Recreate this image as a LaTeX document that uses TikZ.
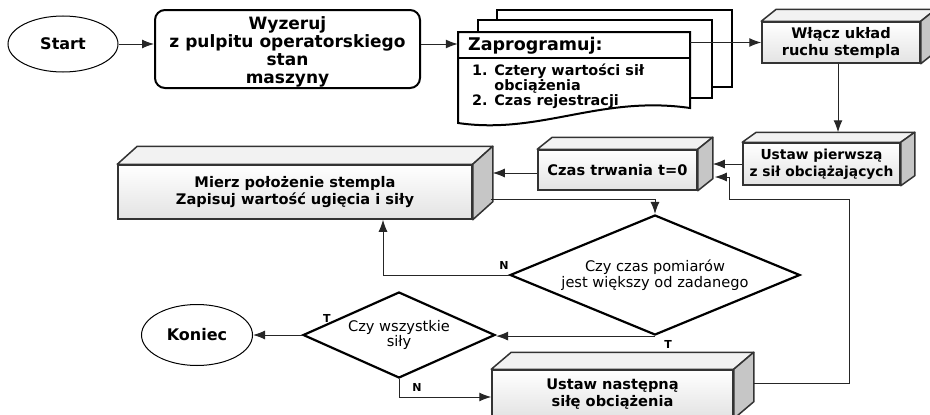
\documentclass[tikz,border=0pt]{standalone}
\usepackage{fontspec}
\setmainfont{DejaVu Sans}
\usetikzlibrary{positioning, arrows.meta, shapes.geometric, calc}
\tikzset{
    >={Latex[length=12pt,width=9pt]},
    conn/.style={->, line width=1pt, draw=black!85},
    box3d/.style={rectangle, draw=black!80, line width=1.5pt, inner sep=0pt, align=center,
      top color=white, bottom color=gray!22, font=\bfseries\fontsize{14.6}{17}\selectfont},
    face/.style={draw=black!80, line width=1.5pt, line join=round},
    decision/.style={diamond, draw, line width=2.2pt, inner sep=0pt, align=center,
      font=\fontsize{14.6}{15.5}\selectfont},
    terminal/.style={ellipse, draw, line width=1pt, font=\bfseries\fontsize{16}{18}\selectfont},
    doc/.style={draw, line width=2pt, fill=white},
    tag/.style={font=\bfseries\fontsize{11}{12}\selectfont, inner sep=1pt},
}

\begin{document}
\begin{tikzpicture}[x=1pt, y=-1pt]
    \useasboundingbox (0,0) rectangle (930,415);
    \clip (0,0) rectangle (930,415);

    \node[terminal, minimum width=110pt, minimum height=56pt] (start) at (63,44) {Start};
    \node[draw, rounded corners=10pt, line width=2pt, minimum width=265pt, minimum height=78pt,
      inner ysep=0pt, align=center, font=\bfseries\fontsize{17}{18}\selectfont] (wyzeruj) at (287.5,49)
      {\rule{0pt}{19pt}Wyzeruj\\z pulpitu operatorskiego\\stan\\maszyny};

    % stack of documents
    \draw[doc] (497,10) rectangle (732,87);
    \draw[doc] (478,20) rectangle (712,98);
    \draw[doc] (458,32) -- (690,32) -- (690,108) .. controls (600,95) and (540,135) .. (458,123) -- cycle;
    \draw[doc] (458,58) -- (690,58);
    \node[minimum width=232pt, minimum height=91pt, inner sep=0pt] (prog) at (574,77.5) {};
    \node[anchor=west, inner sep=0pt, font=\bfseries\fontsize{17.5}{19}\selectfont] (progtitle) at (468,46) {Zaprogramuj:};
    \node[anchor=north west, align=left, inner sep=0pt,
      font=\bfseries\fontsize{14.4}{13.5}\selectfont] (proglist) at (472,64)
      {1. Cztery wartości sił\\\hphantom{1. }obciążenia\\2. Czas rejestracji};

    \node[box3d, minimum width=158pt, minimum height=41pt] (wlacz) at (841,42.5) {Włącz układ\\ruchu stempla};
    \node[box3d, minimum width=157pt, minimum height=42pt, font=\bfseries\fontsize{13.8}{16.5}\selectfont] (pierwsza) at (821.5,164) {Ustaw pierwszą\\z sił obciążających};
    \node[box3d, minimum width=159pt, minimum height=40pt] (czas) at (617.5,170) {Czas trwania t=0};
    \node[box3d, minimum width=354pt, minimum height=54pt] (mierz) at (295,192) {Mierz położenie stempla\\Zapisuj wartość ugięcia i siły};
    \node[box3d, minimum width=241pt, minimum height=48pt] (nastepna) at (612.5,394) {Ustaw następną\\siłę obciążenia};

    \foreach \n/\dx/\dy in {wlacz/15/12, pierwsza/14/10, czas/15/12, mierz/20/18, nastepna/20/17} {
      \draw[face, fill=gray!10] (\n.north west) -- ++(\dx,-\dy) -- ($(\n.north east)+(\dx,-\dy)$) -- (\n.north east) -- cycle;
      \draw[face, fill=gray!45] (\n.north east) -- ++(\dx,-\dy) -- ($(\n.south east)+(\dx,-\dy)$) -- (\n.south east) -- cycle;
    }

    \node[decision, minimum width=290pt, minimum height=120pt, aspect=2.4] (pomiar) at (655,275) {Czy czas pomiarów\\jest większy od zadanego};
    \node[decision, minimum width=192pt, minimum height=86pt, aspect=2.2] (sily) at (399,335) {Czy wszystkie\\siły};
    \node[terminal, minimum width=111pt, minimum height=61pt] (koniec) at (197,335) {Koniec};

    \coordinate (pierwsza-top) at ([yshift=10pt]pierwsza.north);
    \coordinate (czas-side) at ([xshift=15pt]czas.east);
    \coordinate (czas-out) at ([yshift=-3pt]czas.west);
    \coordinate (mierz-side) at ([xshift=20pt]mierz.east);
    \coordinate (mierz-out) at ([xshift=18pt,yshift=-7pt]mierz.east);
    \coordinate (nastepna-side) at ([xshift=20pt,yshift=11pt]nastepna.east);

    \draw[conn] (start) -- (wyzeruj.west |- start);
    \draw[conn] (wyzeruj.east |- start) -- (prog.west |- start);
    \draw[conn] (prog.east |- wlacz) -- (wlacz.west);
    \draw[conn] ([xshift=-3pt]wlacz.south) -- ([xshift=-3pt]wlacz.south |- pierwsza-top);
    \draw[conn] (pierwsza.west) -- (czas-side |- pierwsza.west);
    \draw[conn] (nastepna-side) -- ++(96,0) -- ++(0,-184) -- ++(-120,0) -- ++(0,-22) -- ++(-15,0);
    \draw[conn] (czas-out) -- (mierz-side |- czas-out);
    \draw[conn] (mierz-out) -| (pomiar.north);
    \draw[conn] (pomiar.west) -| ([xshift=88pt]mierz.south);
    \draw[conn] (pomiar.south) -- (sily.east |- pomiar.south);
    \draw[conn] (sily.west) -- (koniec.east);
    \draw[conn] (sily.south) |- ([yshift=-3pt]nastepna.west);

    \node[tag] (n1) at ([xshift=-5pt,yshift=10pt]pomiar.west) {N};
    \node[tag] (t1) at ([xshift=13pt,yshift=-8pt]pomiar.south) {T};
    \node[tag] (t2) at ([xshift=25pt,yshift=17pt]sily.west) {T};
    \node[tag] (n2) at ([xshift=18pt,yshift=-8pt]sily.south) {N};
\end{tikzpicture}
\end{document}
